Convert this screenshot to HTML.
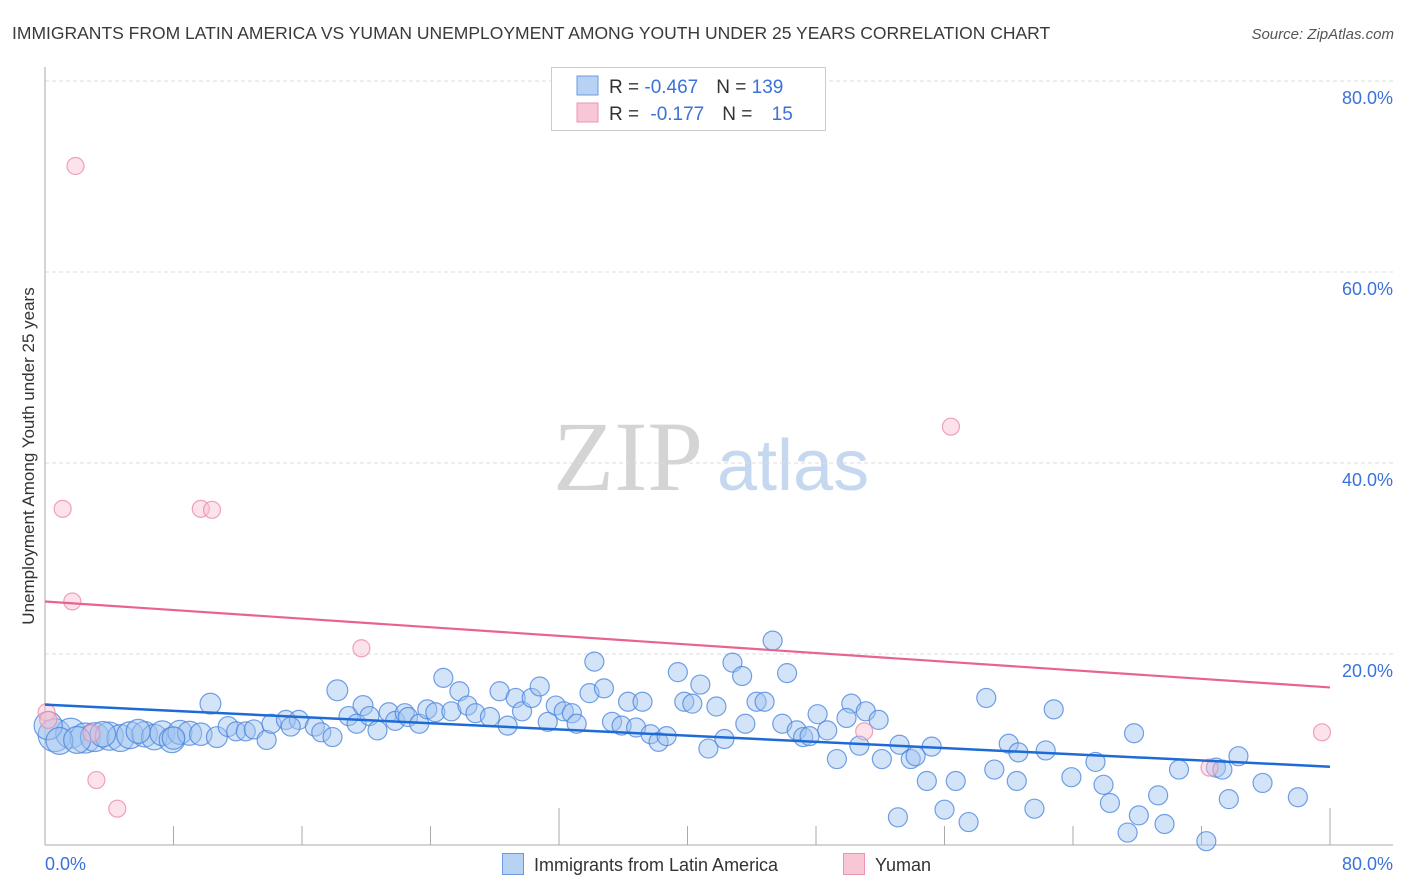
<!DOCTYPE html>
<html><head><meta charset="utf-8"><style>
body{margin:0;background:#fff;font-family:"Liberation Sans",sans-serif;}
#wrap{position:relative;width:1406px;height:892px;overflow:hidden;}
</style></head><body>
<div id="wrap">
<svg id="chart" width="1406" height="892" xmlns="http://www.w3.org/2000/svg">
<text x="12" y="39" font-size="17.5" fill="#3a3a3a">IMMIGRANTS FROM LATIN AMERICA VS YUMAN UNEMPLOYMENT AMONG YOUTH UNDER 25 YEARS CORRELATION CHART</text>
<text x="1394" y="39" font-size="15" fill="#555" font-style="italic" text-anchor="end">Source: ZipAtlas.com</text>
<g>
<text x="553" y="490" font-size="100" font-family="Liberation Serif, serif" fill="#d4d4d4">ZIP</text>
<text x="717" y="490" font-size="72" fill="#c5d8f0">atlas</text>
</g>
<g id="grid"></g>
<g id="axes"></g>
<g id="pts"></g>
<g id="trend"></g>
<text transform="translate(34,456) rotate(-90)" font-size="17" fill="#333" text-anchor="middle">Unemployment Among Youth under 25 years</text>
<g>
<rect x="551.5" y="67.5" width="274" height="63" fill="#fff" stroke="#ccc"/>
<rect x="577" y="76" width="21" height="19" fill="#b8d2f4" stroke="#6a9be0"/>
<rect x="577" y="103" width="21" height="19" fill="#f8c7d6" stroke="#ec94b0"/>
<text x="609" y="93" font-size="19" fill="#333">R = <tspan fill="#3b72d9">-0.467</tspan><tspan dx="18">N = </tspan><tspan fill="#3b72d9">139</tspan></text>
<text x="609" y="120" font-size="19" fill="#333">R = <tspan dx="6" fill="#3b72d9">-0.177</tspan><tspan dx="18">N = </tspan><tspan dx="14" fill="#3b72d9">15</tspan></text>
</g>
<g>
<rect x="502.5" y="853.5" width="21" height="21" fill="#b8d2f4" stroke="#6a9be0"/>
<text x="534" y="871" font-size="18" fill="#333">Immigrants from Latin America</text>
<rect x="843.5" y="853.5" width="21" height="21" fill="#f8c7d6" stroke="#ec94b0"/>
<text x="875" y="871" font-size="18" fill="#333">Yuman</text>
</g>
</svg>
</div>
<script>
const blueX=[0.6,1.6,2.5,3.1,4.0,4.7,5.3,6.2,6.8,7.3,7.9,8.4,9.0,9.7,10.3,10.7,11.4,11.9,12.5,13.0,13.8,14.1,15.0,15.8,15.3,16.8,17.2,17.9,18.2,18.9,19.4,19.8,20.2,20.7,21.4,21.8,22.4,22.6,23.3,23.8,24.3,24.8,25.3,25.8,26.3,26.8,27.7,28.3,28.8,29.3,29.7,30.3,30.8,31.3,31.8,32.3,32.8,33.1,33.9,34.2,34.8,35.3,35.9,36.3,36.8,37.2,37.7,38.2,38.7,39.4,39.8,40.3,40.8,41.3,41.8,42.3,42.8,43.4,43.6,44.3,44.8,45.3,45.9,46.2,46.8,47.2,47.6,48.1,48.7,49.3,50.2,49.9,50.7,51.1,51.9,52.1,53.1,53.2,53.9,54.2,54.9,55.2,56.0,56.7,57.5,59.1,58.6,60.0,60.5,60.6,61.6,62.3,62.8,63.9,65.4,65.9,66.3,67.4,67.8,68.1,69.3,69.7,70.6,72.3,72.9,73.3,73.7,74.3,75.8,78.0,0.2,0.9,2.0,3.6,5.8,8.0];
const blueY=[11.5,11.7,11.2,11.3,11.4,11.2,11.5,11.6,11.3,11.7,11.0,11.8,11.7,11.6,14.8,11.3,12.4,11.9,11.9,12.1,11.0,12.7,13.1,13.1,12.4,12.4,11.8,11.3,16.2,13.5,12.7,14.6,13.5,12.0,13.9,13.0,13.8,13.4,12.7,14.2,13.9,17.5,14.0,16.1,14.6,13.8,13.4,16.1,12.5,15.4,14.0,15.4,16.6,12.9,14.6,14.0,13.8,12.7,15.9,19.2,16.4,12.9,12.5,15.0,12.3,15.0,11.6,10.8,11.4,18.1,15.0,14.8,16.8,10.1,14.5,11.1,19.1,17.7,12.7,15.0,15.0,21.4,12.7,18.0,12.0,11.3,11.4,13.7,12.0,9.0,14.8,13.3,10.4,14.0,13.1,9.0,2.9,10.5,9.0,9.3,6.7,10.3,3.7,6.7,2.4,7.9,15.4,10.6,6.7,9.7,3.8,9.9,14.2,7.1,8.7,6.3,4.4,1.3,11.7,3.1,5.2,2.2,7.9,0.4,8.1,7.9,4.8,9.3,6.5,5.0,12.5,10.9,11.0,11.6,11.9,11.2];
const blueSize=[3,2.5,2.5,2.3,2.2,2,2,1.8,1.8,1.7,1.8,1.6,1.6,1.4,1.2,1.2,1.1,1,1,1,1,1,1,1,1,1,1,1,1.2,1,1,1.1,1,1,1,1,1,1,1,1,1,1,1,1,1,1,1,1,1,1,1,1,1,1,1,1,1,1,1,1,1,1,1,1,1,1,1,1,1,1,1,1,1,1,1,1,1,1,1,1,1,1,1,1,1,1,1,1,1,1,1,1,1,1,1,1,1,1,1,1,1,1,1,1,1,1,1,1,1,1,1,1,1,1,1,1,1,1,1,1,1,1,1,1,1,1,1,1,1,1,2.2,2,2,1.8,1.6,1.4];
const pinkX=[1.9,1.1,9.7,10.4,1.7,19.7,56.4,51.0,3.2,4.5,79.5,72.5,0.1,0.2,2.9];
const pinkY=[71.1,35.2,35.2,35.1,25.5,20.6,43.8,11.9,6.8,3.8,11.8,8.1,13.9,13.1,11.7];
const trendBlue=[14.7,8.2];
const trendPink=[25.5,16.5];
const xTicks=[0,80];
const yTicks=[20,40,60,80];
const yTickLabels=["20.0%","40.0%","60.0%","80.0%"];
const xTickLabels=["0.0%","80.0%"];

const NS="http://www.w3.org/2000/svg";
const X0=45,X1=1330,Y0=845,Y1=654;
const sx=v=>X0+(X1-X0)*v/80;
const sy=v=>Y0-(Y0-Y1)*v/20;
function mk(tag,attrs,parent){const e=document.createElementNS(NS,tag);for(const k in attrs)e.setAttribute(k,attrs[k]);parent.appendChild(e);return e;}
const grid=document.getElementById('grid'),axes=document.getElementById('axes'),pts=document.getElementById('pts'),trend=document.getElementById('trend');
yTicks.forEach((t,i)=>{
  const l=mk('line',{x1:X0,x2:1393,y1:sy(t),y2:sy(t),stroke:'#ddd','stroke-dasharray':'4,3'},grid);
  
  
  const tx=mk('text',{x:1393,y:sy(t)+23,'font-size':18,fill:'#3b72d9','text-anchor':'end'},axes);
  tx.textContent=yTickLabels[i];
  
  
});
let a=mk('line',{x1:X0,x2:X0,y1:67,y2:Y0,stroke:'#aaa'},axes);


a=mk('line',{x1:X0,x2:1393,y1:Y0,y2:Y0,stroke:'#aaa'},axes);


for(let k=1;k<=10;k++){
  const v=k*8;
  const t=mk('line',{x1:sx(v),x2:sx(v),y1:(k==4||k==10)?808:826,y2:Y0,stroke:'#aaa'},axes);
  
  
}
xTicks.forEach((t,i)=>{
  const tx=mk('text',{x:i==0?X0:1393,y:870,'font-size':18,fill:'#3b72d9','text-anchor':i==0?'start':'end'},axes);
  tx.textContent=xTickLabels[i];
  
  
});
blueX.forEach((x,i)=>{
  const c=mk('circle',{cx:sx(x),cy:sy(blueY[i]),r:9.5*(blueSize[i]>1?Math.sqrt(blueSize[i]):1),fill:'rgba(160,196,240,0.45)',stroke:'rgba(70,130,220,0.75)','stroke-width':1.2},pts);
  
  
});
pinkX.forEach((x,i)=>{
  const c=mk('circle',{cx:sx(x),cy:sy(pinkY[i]),r:8.5,fill:'rgba(248,190,208,0.45)',stroke:'rgba(236,140,170,0.8)','stroke-width':1.2},pts);
  
  
});
let tl=mk('line',{x1:sx(0),x2:sx(80),y1:sy(trendBlue[0]),y2:sy(trendBlue[1]),stroke:'#1f6bd6','stroke-width':2.5},trend);


tl=mk('line',{x1:sx(0),x2:sx(80),y1:sy(trendPink[0]),y2:sy(trendPink[1]),stroke:'#e8648f','stroke-width':2.2},trend);


</script>
</body></html>
